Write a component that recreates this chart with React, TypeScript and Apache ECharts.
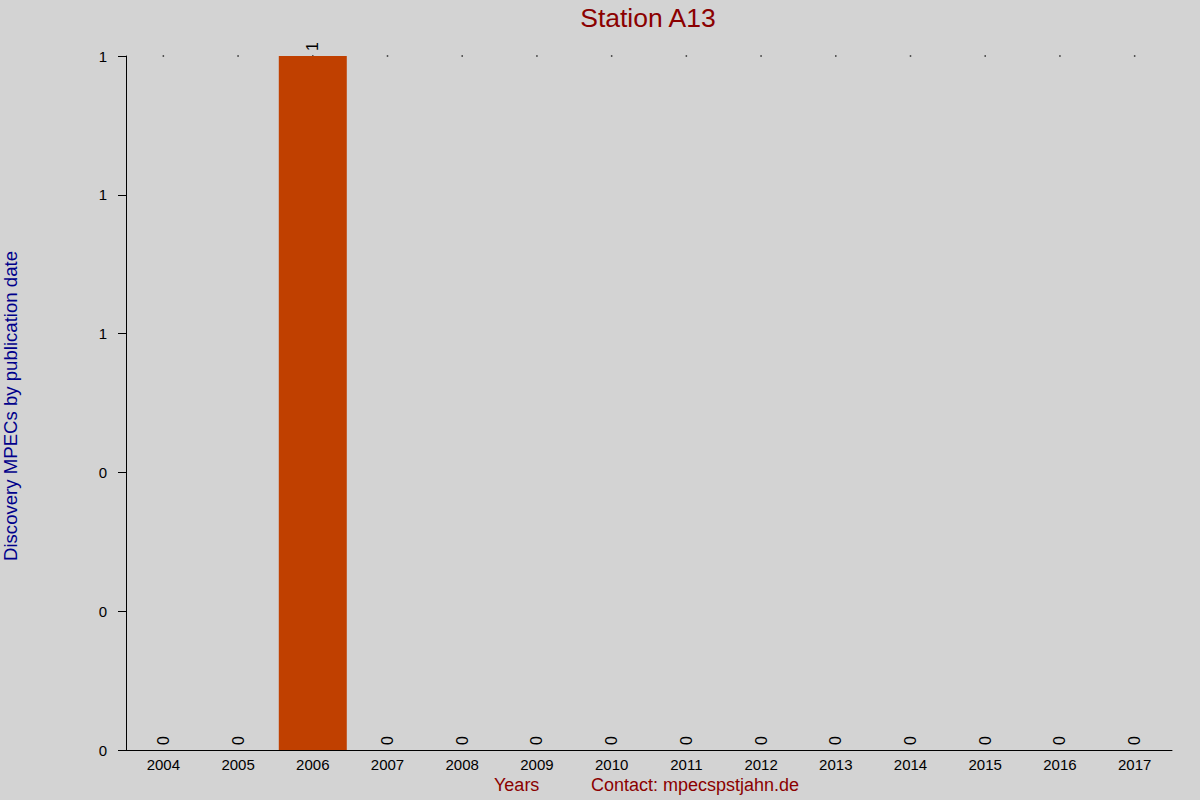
import React, { useEffect, useRef } from 'react';
import * as echarts from 'echarts';

const years = ['2004', '2005', '2006', '2007', '2008', '2009', '2010', '2011', '2012', '2013', '2014', '2015', '2016', '2017'];
const discoveries = [0, 0, 1, 0, 0, 0, 0, 0, 0, 0, 0, 0, 0, 0];
const topMarks = [1, 1, 1, 1, 1, 1, 1, 1, 1, 1, 1, 1, 1, 1];

const FONT = '"Liberation Sans", Arial, sans-serif';
const DARK_RED = '#8b0000';

const App: React.FC = () => {
  const chartRef = useRef<HTMLDivElement>(null);

  useEffect(() => {
    if (!chartRef.current) return;
    const chart = echarts.init(chartRef.current, undefined, { renderer: 'svg' });
    const option: any = {
      animation: false,
      backgroundColor: '#d3d3d3',
      textStyle: { fontFamily: FONT },
      title: {
        text: 'Station A13',
        left: 643,
        textAlign: 'center',
        top: -1,
        textStyle: { color: DARK_RED, fontSize: 26.5, fontWeight: 'normal', fontFamily: FONT }
      },
      grid: { left: 126, right: 28, top: 56, bottom: 50, containLabel: false, outerBoundsMode: 'none' },
      xAxis: {
        type: 'category',
        data: years,
        axisLine: { lineStyle: { color: '#000', width: 1 } },
        axisTick: { show: false },
        axisLabel: { color: '#000', fontSize: 15, margin: 7 }
      },
      yAxis: {
        type: 'value',
        min: 0,
        max: 1,
        interval: 0.2,
        name: 'Discovery MPECs by publication date',
        nameLocation: 'middle',
        nameGap: 106,
        nameTextStyle: { color: '#00008b', fontSize: 18.6, padding: [0, 0, 0, -6] },
        axisLine: { show: true, lineStyle: { color: '#000', width: 1 } },
        axisTick: { show: true, length: 8, lineStyle: { color: '#000' } },
        splitLine: { show: false },
        axisLabel: {
          color: '#000',
          fontSize: 15,
          margin: 19,
          formatter: (v: number) => String(Math.round(v))
        }
      },
      graphic: [
        {
          type: 'text',
          left: 494,
          top: 776,
          style: { text: 'Years', fill: DARK_RED, font: `18px ${FONT}` }
        },
        {
          type: 'text',
          left: 591,
          top: 776,
          style: { text: 'Contact: mpecspstjahn.de', fill: DARK_RED, font: `18px ${FONT}` }
        }
      ],
      series: [
        {
          type: 'bar',
          data: discoveries,
          barWidth: '91%',
          itemStyle: { color: '#c04000' },
          label: {
            show: true,
            position: 'top',
            rotate: 90,
            align: 'left',
            verticalAlign: 'middle',
            distance: 5,
            color: '#000',
            fontSize: 16
          },
          z: 2
        },
        {
          type: 'scatter',
          data: topMarks,
          symbol: 'rect',
          symbolSize: 1.5,
          itemStyle: { color: '#000' },
          silent: true,
          z: 1
        }
      ]
    };
    chart.setOption(option);
    return () => {
      chart.dispose();
    };
  }, []);

  return (
    <div
      ref={chartRef}
      style={{ position: 'absolute', left: 0, top: 0, width: 1200, height: 800 }}
    />
  );
};

export default App;
